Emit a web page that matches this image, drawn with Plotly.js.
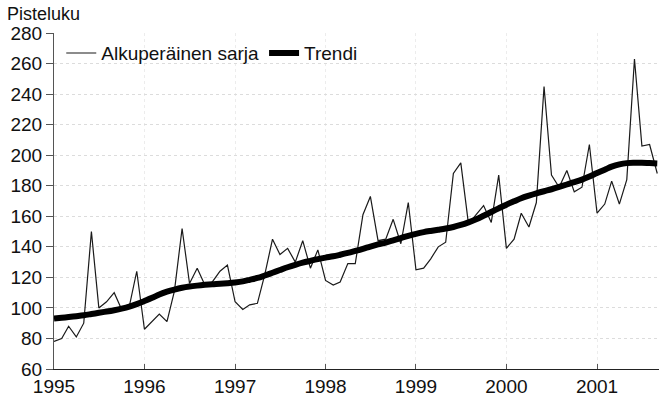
<!DOCTYPE html>
<html>
<head>
<meta charset="utf-8">
<script src="https://cdn.plot.ly/plotly-3.0.1.min.js"></script>
<style>
html,body{margin:0;padding:0;background:#fff;}
#chart{width:659px;height:407px;}
</style>
</head>
<body>
<div id="chart"></div>
<script>
// Monthly data, January 1995 - September 2001
const startYear = 1995;
const original = [
  78, 80, 88, 81, 90, 150, 100, 104, 110, 99, 101, 124,
  86, 91, 96, 91, 111, 152, 116, 126, 115, 117, 124, 128,
  104, 99, 102, 103, 122, 145, 135, 139, 130, 144, 126, 138,
  118, 115, 117, 129, 129, 161, 173, 144, 145, 158, 142, 169,
  125, 126, 132, 140, 143, 188, 195, 155, 161, 167, 156, 187,
  139, 145, 162, 153, 169, 245, 187, 179, 190, 176, 179, 207,
  162, 168, 183, 168, 184, 263, 206, 207, 188
];
const trend = [
  93, 93.5, 94, 94.6, 95.2, 96, 96.8, 97.6, 98.5, 99.5, 100.8, 102.5,
  104.5, 106.6, 108.8, 110.6, 112, 113.2, 114, 114.6, 115.1, 115.5, 115.8, 116.2,
  116.7, 117.4, 118.4, 119.6, 121.2, 123, 124.8, 126.6, 128.2, 129.6, 130.8, 131.9,
  132.9, 133.8, 134.8, 136, 137.3, 138.7, 140.2, 141.6, 142.8, 144.2, 145.7, 147.2,
  148.5, 149.6, 150.4, 151.2, 152, 153, 154.3, 156, 158, 160.3, 162.8, 165.2,
  167.6, 169.8, 171.8, 173.5, 175, 176.4, 177.7, 179.2, 180.8, 182.3, 184, 186,
  188.3, 190.5, 192.5, 194, 194.8, 195, 195, 194.8, 194.6
];
const seriesNames = ["Alkuperäinen sarja", "Trendi"];
const yTitle = "Pisteluku";
const yTicks = [60, 80, 100, 120, 140, 160, 180, 200, 220, 240, 260, 280];

function monthDates(n) {
  const out = [];
  for (let i = 0; i < n; i++) {
    const y = startYear + Math.floor(i / 12);
    const m = (i % 12) + 1;
    out.push(y + "-" + (m < 10 ? "0" + m : m) + "-01");
  }
  return out;
}
const dates = monthDates(original.length);

const FONT = "Liberation Sans, Arial, Helvetica, sans-serif";

const traces = [
  {
    x: dates, y: original, type: "scatter", mode: "lines",
    name: seriesNames[0],
    line: {color: "#1a1a1a", width: 1.2}
  },
  {
    x: dates, y: trend, type: "scatter", mode: "lines",
    name: seriesNames[1],
    line: {color: "#000000", width: 6, shape: "spline"}
  }
];

const layout = {
  width: 659, height: 407,
  margin: {l: 54, r: 0, t: 33, b: 38},
  paper_bgcolor: "#ffffff", plot_bgcolor: "#ffffff",
  font: {family: FONT, size: 19, color: "#111"},
  showlegend: true,
  legend: {
    orientation: "h", x: 0.012, y: 0.94, xanchor: "left", yanchor: "middle",
    font: {family: FONT, size: 19, color: "#111"},
    bgcolor: "rgba(255,255,255,0)", itemwidth: 30, tracegroupgap: 0
  },
  xaxis: {
    type: "date",
    range: ["1995-01-01", "2001-09-08"],
    tick0: "1995-01-01", dtick: "M12", tickformat: "%Y",
    ticks: "inside", ticklen: 5, tickcolor: "#555",
    showline: true, linecolor: "#222", linewidth: 1.3,
    showgrid: true, gridcolor: "#ececec", griddash: "dot", gridwidth: 1,
    zeroline: false,
    tickfont: {family: FONT, size: 19, color: "#111"}
  },
  yaxis: {
    range: [60, 280],
    tickvals: yTicks,
    ticks: "outside", ticklen: 7, tickcolor: "#555",
    showline: true, linecolor: "#555", linewidth: 1,
    showgrid: true, gridcolor: "#dcdcdc", griddash: "dot", gridwidth: 1,
    zeroline: false,
    tickfont: {family: FONT, size: 19, color: "#111"}
  },
  annotations: [{
    text: yTitle, xref: "paper", yref: "paper",
    x: -0.081, y: 1.0, xanchor: "left", yanchor: "bottom", yshift: 7,
    showarrow: false, font: {family: FONT, size: 18, color: "#111"}
  }]
};

Plotly.newPlot("chart", traces, layout, {displayModeBar: false, staticPlot: true});
</script>
</body>
</html>
